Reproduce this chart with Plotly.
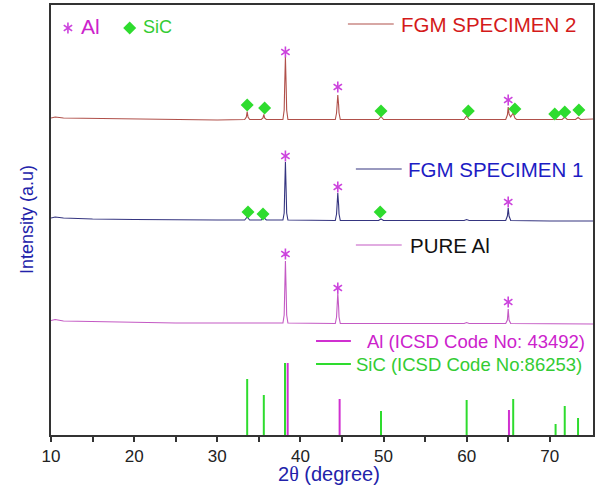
import plotly.graph_objects as go

# ---------------- data ----------------
# FGM specimen 2 pattern (x = 2theta, y = stacked intensity, a.u.)
spec2_x = [10.0, 10.5, 11.5, 15, 20, 25, 30,
           33.3, 33.5, 33.6, 33.7, 33.9,
           35.3, 35.5, 35.6, 35.7, 35.9,
           37.9, 38.05, 38.1, 38.2, 38.3, 38.35, 38.5,
           44.2, 44.35, 44.4, 44.5, 44.6, 44.65, 44.8,
           49.4, 49.7, 50.0, 55.0,
           59.7, 60.0, 60.3,
           64.7, 64.9, 65.0, 65.1, 65.3, 65.6, 65.8, 66.0,
           70.4, 70.6, 70.8, 71.5, 71.8, 72.1, 73.1, 73.4, 73.7, 75.2]
spec2_y = [317, 318, 317, 316.5, 316, 315.5, 315,
           315.5, 318, 323.5, 318, 315.5,
           315.5, 317, 320.5, 317, 315.5,
           315.5, 325, 345, 378, 345, 325, 315.5,
           315.5, 322, 330, 340, 330, 322, 315.5,
           315.5, 318.5, 315.5, 315.5,
           315.5, 319, 315.5,
           315.5, 320, 328, 321, 318, 322, 317, 315.5,
           315.5, 317, 315.5, 315.5, 318, 315.5, 315.5, 317.5, 315.5, 316]

# FGM specimen 1 pattern
spec1_x = [10.0, 10.5, 11.5, 15, 20, 25, 30,
           33.3, 33.6, 33.9, 35.3, 35.6, 35.9,
           37.9, 38.05, 38.1, 38.2, 38.3, 38.35, 38.5,
           44.2, 44.35, 44.4, 44.5, 44.6, 44.65, 44.8,
           49.4, 49.7, 50.0, 59.7, 60.0, 60.3,
           64.7, 64.9, 65.0, 65.1, 65.3, 70.0, 75.2]
spec1_y = [217, 218, 217, 216, 215.5, 215, 215,
           215, 218, 215, 215, 217.5, 215,
           215, 222, 240, 273, 240, 222, 215,
           214.5, 221, 230, 242, 230, 221, 214.5,
           214.5, 216, 214.5, 214.5, 215.5, 214.5,
           214.5, 219, 227, 219, 214.5, 214, 214]

# Pure Al pattern
pure_x = [10.0, 10.5, 11.5, 15, 20, 25, 30, 35,
          37.9, 38.05, 38.1, 38.2, 38.3, 38.35, 38.5,
          44.2, 44.35, 44.4, 44.5, 44.6, 44.65, 44.8,
          55.0, 59.7, 60.0, 60.3,
          64.7, 64.9, 65.0, 65.1, 65.3, 70.0, 75.2]
pure_y = [114.5, 115.5, 114, 113.5, 112.5, 112, 112, 112,
          112, 120, 140, 174, 140, 120, 112,
          111.5, 118, 128, 142, 128, 118, 111.5,
          111.5, 111.5, 112.5, 111.5,
          111.5, 115, 126, 115, 111.5, 111, 111]

# reference stick patterns
al_ref_pos = [38.47, 44.72, 65.09]
al_ref_int = [72, 36, 25]
sic_ref_pos = [33.6, 35.6, 38.15, 49.7, 60.0, 65.6, 70.7, 71.8, 73.4]
sic_ref_int = [56, 40, 72, 24, 35, 36, 11, 29, 17]

# phase markers
spec2_al_x = [38.2, 44.5, 65.0]
spec2_al_y = [383, 348, 335]
spec2_sic_x = [33.6, 35.7, 49.7, 60.2, 65.8, 70.6, 71.8, 73.5]
spec2_sic_y = [330, 327, 324, 324, 326, 321, 323, 325]
spec1_al_x = [38.2, 44.5, 65.0]
spec1_al_y = [279, 248, 233]
spec1_sic_x = [33.7, 35.5, 49.6]
spec1_sic_y = [223, 221, 223]
pure_al_x = [38.2, 44.5, 65.0]
pure_al_y = [181, 147, 133]

x_ticks = [10, 20, 30, 40, 50, 60, 70]

# ---------------- styles ----------------
FONT = "Liberation Sans, Arial, sans-serif"
C_SPEC2 = "#b0504a"
C_SPEC1 = "#353580"
C_PURE = "#c45ac4"
C_AL = "#d030d0"
C_SIC = "#2edc2e"
C_STAR = "#cc44dd"
C_BLUE = "#2222aa"

W, H = 598, 488
L, R, T, B = 51, 3, 5, 53
PW, PH = W - L - R, H - T - B


def px(x):
    return (x - L) / PW


def py(y):
    return (H - B - y) / PH


fig = go.Figure()

for xs, ys, c in [(spec2_x, spec2_y, C_SPEC2), (spec1_x, spec1_y, C_SPEC1),
                  (pure_x, pure_y, C_PURE)]:
    fig.add_trace(go.Scatter(x=xs, y=ys, mode="lines",
                             line=dict(color=c, width=1.1), showlegend=False))


def sticks(pos, inten):
    xs, ys = [], []
    for p, v in zip(pos, inten):
        xs += [p, p, None]
        ys += [0, v, None]
    return xs, ys


sx, sy = sticks(sic_ref_pos, sic_ref_int)
fig.add_trace(go.Scatter(x=sx, y=sy, mode="lines", line=dict(color=C_SIC, width=2),
                         showlegend=False))
ax, ay = sticks(al_ref_pos, al_ref_int)
fig.add_trace(go.Scatter(x=ax, y=ay, mode="lines", line=dict(color=C_AL, width=2),
                         showlegend=False))

STAR_SIZE = 7


def stars(xs, ys, xref="x", yref="y"):
    for sym in ["y-up-open", "y-down-open"]:
        fig.add_trace(go.Scatter(x=xs, y=ys, mode="markers", showlegend=False,
                                 xaxis=xref, yaxis=yref,
                                 marker=dict(symbol=sym, size=STAR_SIZE, color=C_STAR,
                                             line=dict(color=C_STAR, width=1.6))))


def diamonds(xs, ys, xref="x", yref="y"):
    fig.add_trace(go.Scatter(x=xs, y=ys, mode="markers", showlegend=False,
                             xaxis=xref, yaxis=yref,
                             marker=dict(symbol="diamond", size=10, color=C_SIC,
                                         line=dict(width=0))))


stars(spec2_al_x, spec2_al_y)
stars(spec1_al_x, spec1_al_y)
stars(pure_al_x, pure_al_y)
diamonds(spec2_sic_x, spec2_sic_y)
diamonds(spec1_sic_x, spec1_sic_y)

# top-left key markers (paper coordinates via a hidden overlay axis)
stars([px(68)], [py(28)], "x2", "y2")
diamonds([px(130)], [py(28)], "x2", "y2")

shapes = []
annotations = []


def legend_item(x0, x1, y, lc, text, tx, size, tc, lw=1.2):
    shapes.append(dict(type="line", xref="paper", yref="paper",
                       x0=px(x0), x1=px(x1), y0=py(y), y1=py(y),
                       line=dict(color=lc, width=lw)))
    annotations.append(dict(text=text, xref="paper", yref="paper", x=px(tx), y=py(y),
                            xanchor="left", yanchor="middle", showarrow=False,
                            font=dict(family=FONT, size=size, color=tc)))


legend_item(349, 395, 24, C_SPEC2, "FGM SPECIMEN 2", 400, 20.5, "#d41a1a")
legend_item(357, 403, 169, C_SPEC1, "FGM SPECIMEN 1", 407, 20.5, "#1c1cc4")
legend_item(357, 403, 245, C_PURE, "PURE Al", 409, 20.5, "#111111")
legend_item(317, 352, 341, C_AL, "Al (ICSD Code No: 43492)", 366, 18.5, "#cc22cc", lw=2)
legend_item(317, 352, 364, C_SIC, "SiC (ICSD Code No:86253)", 355, 18.5, "#33cc33", lw=2)

annotations.append(dict(text="Al", xref="paper", yref="paper", x=px(79), y=py(27),
                        xanchor="left", yanchor="middle", showarrow=False,
                        font=dict(family=FONT, size=21, color="#cc22cc")))
annotations.append(dict(text="SiC", xref="paper", yref="paper", x=px(141), y=py(27),
                        xanchor="left", yanchor="middle", showarrow=False,
                        font=dict(family=FONT, size=18, color="#33cc33")))

# axis titles
annotations.append(dict(text="2<span style='font-family:Liberation Serif'>θ</span> (degree)",
                        xref="paper", yref="paper", x=px(330), y=py(474),
                        xanchor="center", yanchor="middle", showarrow=False,
                        font=dict(family=FONT, size=20, color=C_BLUE)))
annotations.append(dict(text="Intensity (a.u)", xref="paper", yref="paper",
                        x=px(27), y=py(220), textangle=-90,
                        xanchor="center", yanchor="middle", showarrow=False,
                        font=dict(family=FONT, size=18, color=C_BLUE)))

fig.update_layout(
    width=W, height=H,
    margin=dict(l=L, r=R, t=T, b=B),
    paper_bgcolor="white", plot_bgcolor="white",
    showlegend=False,
    shapes=shapes, annotations=annotations,
    xaxis=dict(range=[10, 75.2], tickvals=x_ticks, ticktext=[str(v) for v in x_ticks],
               showline=True, linecolor="#333333", linewidth=1.5, mirror=True,
               ticks="outside", ticklen=5, tickwidth=1.5, tickcolor="#333333",
               minor=dict(tickvals=[15, 25, 35, 45, 55, 65], ticks="outside",
                          ticklen=5, tickwidth=1.5, tickcolor="#333333"),
               showgrid=False, zeroline=False,
               tickfont=dict(family=FONT, size=17, color="#222222")),
    yaxis=dict(range=[0, 430], showline=True, linecolor="#333333", linewidth=1.5,
               mirror=True, ticks="", showticklabels=False, showgrid=False,
               zeroline=False),
    xaxis2=dict(range=[0, 1], overlaying="x", visible=False),
    yaxis2=dict(range=[0, 1], overlaying="y", visible=False),
)

fig.write_html("out.html", config={"displayModeBar": False},
               post_script="document.body.style.margin='0';"
                           "document.body.style.overflow='hidden';")
